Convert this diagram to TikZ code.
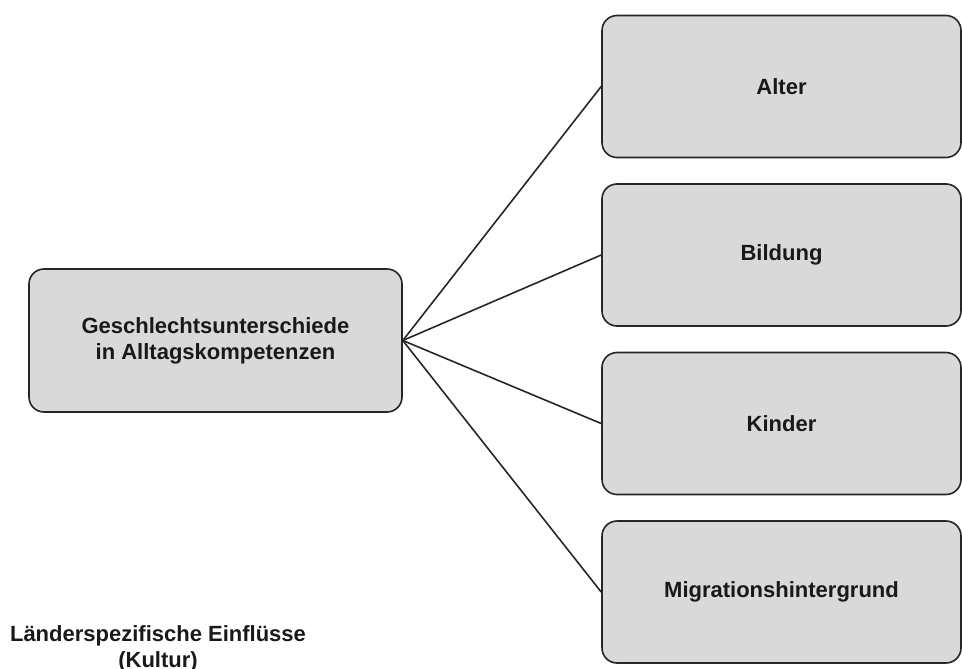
\documentclass[tikz,border=0pt]{standalone}
\usepackage{fontspec}
\setmainfont{Liberation Sans}
\usepackage{tikz}

\begin{document}
\begin{tikzpicture}[x=1pt, y=-1pt, node distance=168.5pt,
  main node/.style={draw=black!85, fill=black!15, rounded corners=15pt, line width=1.6pt,
    font=\bfseries\fontsize{22}{26}\selectfont, text=black!90, align=center, inner sep=0pt},
  side node/.style={main node, minimum width=359pt, minimum height=142pt},
  every edge/.style={draw, line width=1.6pt, black!85}]
\useasboundingbox (0,0) rectangle (962,669);

\node[main node, minimum width=373pt, minimum height=143pt] (1) at (215.5,340.5)
  {Geschlechtsunterschiede\\in Alltagskompetenzen};
\node[side node]              (2) at (781.5,86.5) {Alter};
\node[side node, below of=2]  (3) {Bildung};
\node[side node, below of=3]  (4) {Kinder};
\node[side node, below of=4]  (5) {Migrationshintergrund};
\node[font=\bfseries\fontsize{22}{26}\selectfont, text=black!90, align=center,
  inner sep=0pt, anchor=north] (6) at (158,625) {Länderspezifische Einflüsse\\(Kultur)};

\path
(1.east) edge (2.west)
         edge (3.west)
         edge (4.west)
         edge (5.west)
;
\end{tikzpicture}
\end{document}
